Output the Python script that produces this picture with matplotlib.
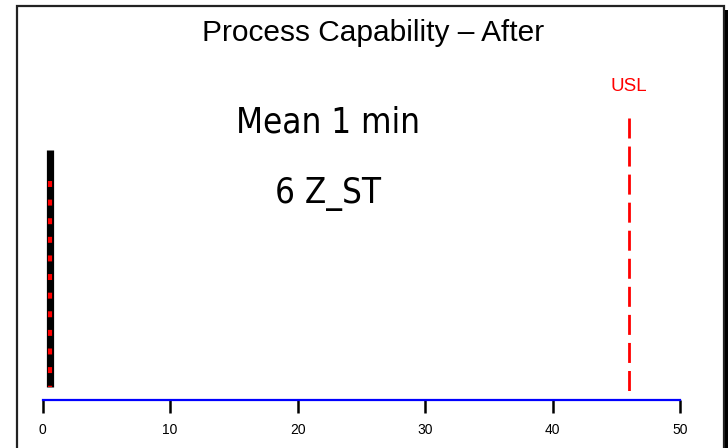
import matplotlib
matplotlib.use("Agg")
import matplotlib.pyplot as plt
from matplotlib.patches import Rectangle

# values
title = "Process Capability \u2013 After"
mean_text = "Mean 1 min"
sigma_text = "6 Z_ST"
x_ticks = [0, 10, 20, 30, 40, 50]
process_mean = 0.6      # narrow spike near zero
curve_low = 0.038
curve_peak = 0.735
usl = 46
usl_top = 0.83

plt.rcParams['lines.scale_dashes'] = False

W, H = 728, 448
fig = plt.figure(figsize=(W / 100, H / 100), dpi=100)

# axes area in pixels: x from 42.7 to 680, baseline at y=400, top at y=60
ax = fig.add_axes([42.7 / W, (H - 400) / H, (680 - 42.7) / W, 340 / H])
ax.set_xlim(0, 50)
ax.set_ylim(0, 1)
for s in ["top", "left", "right"]:
    ax.spines[s].set_visible(False)
ax.spines["bottom"].set_color("#0000ff")
ax.spines["bottom"].set_linewidth(1.6)
ax.spines["bottom"].set_zorder(5)
ax.set_yticks([])
ax.set_xticks(x_ticks)
ax.tick_params(axis="x", direction="out", length=9.4, width=1.8, color="black",
               pad=7, labelsize=10)
for lab in ax.get_xticklabels():
    lab.set_fontfamily("Liberation Sans")

# fitted curve: black spike with red dashed overlay (drawn top-down)
ax.plot([process_mean, process_mean], [curve_peak, curve_low], color="black",
        lw=5.2, solid_capstyle="butt")
ax.plot([process_mean, process_mean], [curve_peak - 0.09, curve_low],
        color="red", lw=3, linestyle=(0, (4.3, 9.1)))

# USL
ax.plot([usl, usl], [usl_top, 0], color="red", lw=2,
        linestyle=(0, (14.4, 5.8)))
ax.text(usl, 1 - (91 - 60) / 340, "USL", color="red", ha="center",
        va="baseline", fontsize=13.5, family="Liberation Sans")

# texts
fig.text(373 / W, 1 - 41 / H, title, ha="center", va="baseline",
         fontsize=21.5, family="Liberation Sans")
fig.text(328 / W, 1 - 132 / H, mean_text, ha="center", va="baseline",
         fontsize=25, family="DejaVu Sans", fontstretch="condensed")
fig.text(328 / W, 1 - 203 / H, sigma_text, ha="center", va="baseline",
         fontsize=25, family="DejaVu Sans", fontstretch="condensed")

# frame around the chart with a shadow on the right
fig.patches.append(Rectangle((17 / W, -0.1), (724 - 17) / W, 1.1 - 6.5 / H,
                             transform=fig.transFigure, fill=False,
                             edgecolor="#222222", lw=1.6))
fig.patches.append(Rectangle((725 / W, 0), 3 / W, 1 - 10 / H,
                             transform=fig.transFigure, facecolor="black",
                             edgecolor="none"))

fig.savefig("out.png", dpi=100)
